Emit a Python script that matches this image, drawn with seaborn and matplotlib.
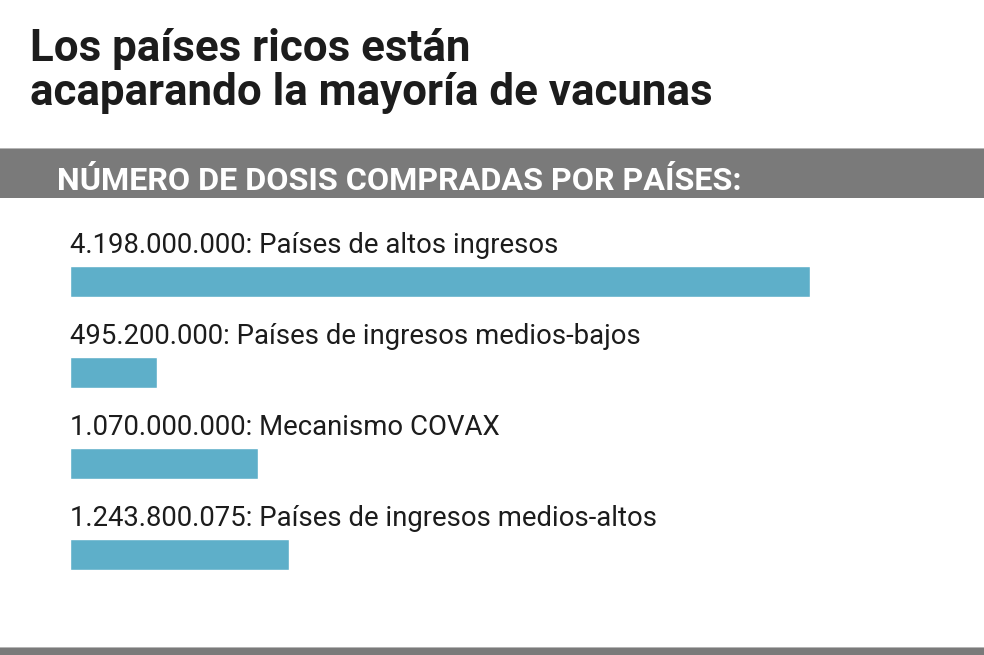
import matplotlib

matplotlib.use("Agg")
import matplotlib.pyplot as plt
import pandas as pd
import seaborn as sns
from matplotlib.patches import Rectangle

# data
categorias = [
    "Países de altos ingresos",
    "Países de ingresos medios-bajos",
    "Mecanismo COVAX",
    "Países de ingresos medios-altos",
]
dosis = [4198000000, 495200000, 1070000000, 1243800075]
etiquetas_dosis = ["4.198.000.000", "495.200.000", "1.070.000.000", "1.243.800.075"]

titulo = ["Los países ricos están", "acaparando la mayoría de vacunas"]
subtitulo = "NÚMERO DE DOSIS COMPRADAS POR PAÍSES:"

BAR_COLOR = "#5eafc9"
GRAY = "#7a7a7a"
FONTS = ["Roboto", "DejaVu Sans"]

sns.set_theme(style="white")
plt.rcParams["font.family"] = FONTS

W, H = 984, 655
fig = plt.figure(figsize=(W / 100, H / 100), dpi=100)
fig.patch.set_facecolor("white")

# title
fig.text(30 / W, 1 - 61 / H, titulo[0], fontsize=31.6, fontweight="bold",
         color="#1c1c1c", va="baseline", ha="left")
fig.text(30 / W, 1 - 105 / H, titulo[1], fontsize=31.6, fontweight="bold",
         color="#1c1c1c", va="baseline", ha="left")

# gray banner
fig.patches.append(Rectangle((0, 1 - 198 / H), 1, 50 / H, transform=fig.transFigure,
                             facecolor=GRAY, edgecolor="none", zorder=0))
fig.patches.append(Rectangle((0, 1 - 149 / H), 1, 1.5 / H, transform=fig.transFigure,
                             facecolor="#b5b5b5", edgecolor="none", zorder=1))
fig.text(57 / W, 1 - 190 / H, subtitulo, fontsize=23.2, fontweight="bold",
         color="white", va="baseline", ha="left")

# bottom rule
fig.patches.append(Rectangle((0, 0), 1, 7 / H, transform=fig.transFigure,
                             facecolor=GRAY, edgecolor="none", zorder=0))
fig.patches.append(Rectangle((0, 7 / H), 1, 1.5 / H, transform=fig.transFigure,
                             facecolor="#b5b5b5", edgecolor="none", zorder=1))

# bars
df = pd.DataFrame({"categoria": categorias, "dosis": dosis})
ax = fig.add_axes([69.5 / W, 1 - 600 / H, 740 / W, 364 / H])
sns.barplot(data=df, x="dosis", y="categoria", orient="h", color=BAR_COLOR,
            width=0.345, saturation=1, ax=ax)
ax.set_xlim(0, max(dosis))
ax.set_ylim(3.5, -0.5)
ax.set_axis_off()

for i, (num, cat) in enumerate(zip(etiquetas_dosis, categorias)):
    ax.text(0, i - 0.31, f"{num}: {cat}", fontsize=19.8, color="#1c1c1c",
            va="baseline", ha="left")

fig.savefig("out.png", dpi=100, facecolor="white")
